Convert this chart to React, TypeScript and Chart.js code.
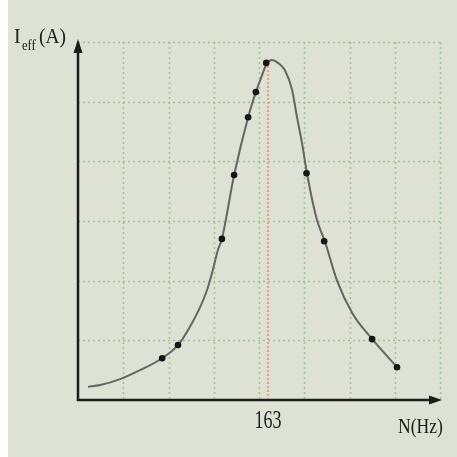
import React, { useEffect, useRef } from "react";
import { Chart, registerables } from "chart.js";

Chart.register(...registerables);

// Smooth resonance curve (N in Hz, Ieff in A units)
const curveHz = [123.2, 125.9, 130.3, 134.7, 139.6, 143.1, 145.3, 147.7, 149.5, 150.8, 151.9, 152.8, 155.5, 158.6, 160.3, 161.7, 162.8, 163.9, 165.2, 166.7, 168.3, 169.4, 170.5, 171.6, 173.8, 175.6, 178.2, 181.6, 185.8, 191.5];
const curveI = [0.22, 0.25, 0.35, 0.50, 0.70, 0.92, 1.17, 1.51, 1.84, 2.18, 2.51, 2.70, 3.77, 4.74, 5.16, 5.45, 5.65, 5.70, 5.65, 5.53, 5.20, 4.74, 4.31, 3.80, 3.02, 2.65, 2.01, 1.46, 1.04, 0.55];

// Measured points
const pointHz = [139.6, 143.1, 152.8, 155.5, 158.6, 160.3, 162.6, 171.5, 175.4, 186.0, 191.5];
const pointI = [0.70, 0.92, 2.70, 3.77, 4.74, 5.16, 5.65, 3.80, 2.66, 1.02, 0.55];

// Resonance marker
const resonanceHz = 163;
const resonanceTopI = 5.66;
const xTickLabels = ["163"];

const X_MIN = 121;
const X_MAX = 201;
const X_STEP = 10;
const Y_MIN = 0;
const Y_MAX = 6;
const Y_STEP = 1;

const PAPER = "rgb(221,226,213)";
const GRID = "rgba(150,190,140,0.85)";
const INK = "#1c1c1a";

const decorPlugin = {
  id: "decor",
  beforeDraw(chart: any) {
    const { ctx, width, height } = chart;
    const xs = chart.scales.x;
    const ys = chart.scales.y;
    const { left, right, top, bottom } = chart.chartArea;
    ctx.save();
    ctx.fillStyle = "#ffffff";
    ctx.fillRect(0, 0, width, height);
    ctx.fillStyle = PAPER;
    ctx.fillRect(8, 0, width - 8, height);

    ctx.strokeStyle = GRID;
    ctx.lineWidth = 1.5;
    ctx.setLineDash([2, 3]);
    for (let v = X_MIN + X_STEP; v <= X_MAX + 1e-6; v += X_STEP) {
      const x = Math.round(xs.getPixelForValue(v)) + 0.5;
      ctx.beginPath();
      ctx.moveTo(x, top);
      ctx.lineTo(x, bottom);
      ctx.stroke();
    }
    for (let v = Y_MIN + Y_STEP; v <= Y_MAX + 1e-6; v += Y_STEP) {
      const y = Math.round(ys.getPixelForValue(v)) + 0.5;
      ctx.beginPath();
      ctx.moveTo(left, y);
      ctx.lineTo(right, y);
      ctx.stroke();
    }
    ctx.restore();
  },
  afterDatasetsDraw(chart: any) {
    const { ctx } = chart;
    const xs = chart.scales.x;
    const { left, right, top, bottom } = chart.chartArea;
    ctx.save();
    ctx.strokeStyle = INK;
    ctx.fillStyle = INK;
    ctx.lineWidth = 2.5;
    ctx.setLineDash([]);
    // y axis
    ctx.beginPath();
    ctx.moveTo(left, bottom + 1);
    ctx.lineTo(left, top + 6);
    ctx.stroke();
    ctx.beginPath();
    ctx.moveTo(left, top - 3);
    ctx.lineTo(left - 4.5, top + 11);
    ctx.lineTo(left + 4.5, top + 11);
    ctx.closePath();
    ctx.fill();
    // x axis
    ctx.beginPath();
    ctx.moveTo(left - 1, bottom);
    ctx.lineTo(right - 4, bottom);
    ctx.stroke();
    ctx.beginPath();
    ctx.moveTo(right + 2, bottom);
    ctx.lineTo(right - 11, bottom - 4.5);
    ctx.lineTo(right - 11, bottom + 4.5);
    ctx.closePath();
    ctx.fill();

    // labels
    const drawScaled = (text: string, x: number, y: number, size: number, sx: number, align: "left" | "center") => {
      ctx.save();
      ctx.font = `${size}px 'Liberation Serif', 'DejaVu Serif', serif`;
      ctx.textBaseline = "alphabetic";
      ctx.translate(x, y);
      ctx.scale(sx, 1);
      ctx.textAlign = align;
      ctx.fillText(text, 0, 0);
      ctx.restore();
    };
    drawScaled("I", 14, 43, 22, 0.9, "left");
    drawScaled("eff", 22, 50, 14, 0.9, "left");
    drawScaled("(A)", 39, 43, 22, 0.88, "left");
    drawScaled(xTickLabels[0], xs.getPixelForValue(resonanceHz), 428, 25, 0.72, "center");
    drawScaled("N(Hz)", 398, 433, 20, 0.88, "left");
    ctx.restore();
  },
};

export default function App() {
  const ref = useRef<HTMLCanvasElement | null>(null);
  useEffect(() => {
    document.body.style.margin = "0";
    const canvas = ref.current;
    if (!canvas) return;
    const chart = new Chart(canvas, {
      type: "line",
      data: {
        datasets: [
          {
            data: [
              { x: resonanceHz, y: 0 },
              { x: resonanceHz, y: resonanceTopI },
            ],
            borderColor: "rgba(232,160,110,0.95)",
            borderWidth: 2,
            borderDash: [2, 2],
            pointRadius: 0,
            order: 3,
          },
          {
            data: curveHz.map((x, i) => ({ x, y: curveI[i] })),
            borderColor: "rgb(100,102,96)",
            borderWidth: 2,
            cubicInterpolationMode: "monotone",
            pointRadius: 0,
            order: 2,
          },
          {
            type: "scatter",
            data: pointHz.map((x, i) => ({ x, y: pointI[i] })),
            backgroundColor: "#161616",
            borderWidth: 0,
            pointRadius: 3.3,
            showLine: false,
            order: 1,
          } as any,
        ],
      },
      options: {
        animation: false,
        responsive: false,
        events: [],
        layout: { padding: { left: 78, right: 17, top: 42, bottom: 57 } },
        scales: {
          x: { type: "linear", min: X_MIN, max: X_MAX, display: false },
          y: { type: "linear", min: Y_MIN, max: Y_MAX, display: false },
        },
        plugins: { legend: { display: false }, tooltip: { enabled: false } },
      },
      plugins: [decorPlugin],
    });
    return () => chart.destroy();
  }, []);
  return (
    <div style={{ position: "absolute", left: 0, top: 0, width: 457, height: 457 }}>
      <canvas ref={ref} width={457} height={457} />
    </div>
  );
}
